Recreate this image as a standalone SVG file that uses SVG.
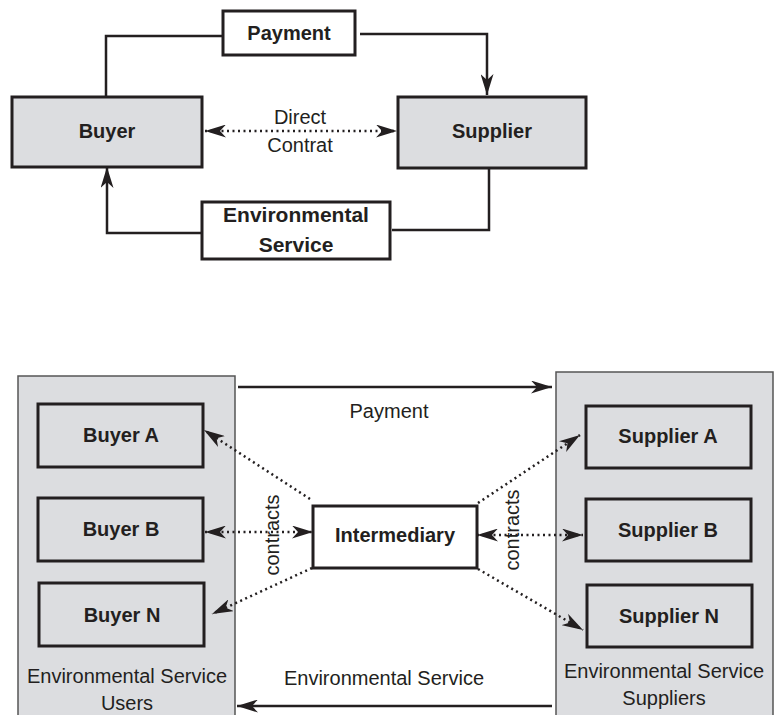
<svg xmlns="http://www.w3.org/2000/svg" width="776" height="715" viewBox="0 0 776 715">
<style>
.bg{fill:#ffffff}
.node{fill:#ffffff;stroke:#231f20;stroke-width:3}
.gnode{fill:#dcdde0;stroke:#231f20;stroke-width:3}
.cont{fill:#dcdde0;stroke:#555555;stroke-width:1.5}
.b{font-family:"Liberation Sans",Arial,sans-serif;font-weight:bold;font-size:20px;fill:#231f20;text-anchor:middle}
.t{font-family:"Liberation Sans",Arial,sans-serif;font-size:20px;fill:#231f20;text-anchor:middle}
.line{fill:none;stroke:#231f20;stroke-width:2.5}
.dot{fill:none;stroke:#231f20;stroke-width:2.5;stroke-dasharray:2 3.5}
</style>
<defs>
<marker id="ah" viewBox="0 0 21 13" refX="21" refY="6.5" markerWidth="21" markerHeight="13" markerUnits="userSpaceOnUse" orient="auto-start-reverse">
<path d="M0,0 L21,6.5 L0,13 L6,6.5 Z" fill="#231f20"/>
</marker>
</defs>
<rect class="bg" x="0" y="0" width="776" height="715"/>

<!-- Top diagram -->
<g id="buyer"><rect class="gnode" x="12" y="97" width="190" height="70"/><text class="b" x="107" y="138">Buyer</text></g>
<g id="supplier"><rect class="gnode" x="398" y="97" width="188" height="71"/><text class="b" x="492" y="138">Supplier</text></g>
<g id="payment"><rect class="node" x="223" y="11" width="132" height="44"/><text class="b" x="289" y="40">Payment</text></g>
<g id="envservice"><rect class="node" x="202" y="202" width="188" height="57"/><text class="b" x="296" y="222" style="font-size:21px">Environmental</text><text class="b" x="296" y="252" style="font-size:21px">Service</text></g>
<g id="direct-label"><text class="t" x="300" y="124">Direct</text><text class="t" x="300" y="152">Contrat</text></g>

<!-- Bottom diagram -->
<g id="users"><rect class="cont" x="18" y="376" width="217" height="345"/><text class="t" x="127" y="683">Environmental Service</text><text class="t" x="127" y="710">Users</text></g>
<g id="suppliers"><rect class="cont" x="556" y="372" width="217" height="349"/><text class="t" x="664" y="678">Environmental Service</text><text class="t" x="664" y="705">Suppliers</text></g>
<g id="buyerA"><rect class="gnode" x="38" y="404" width="165" height="63"/><text class="b" x="121" y="442">Buyer A</text></g>
<g id="buyerB"><rect class="gnode" x="38" y="498" width="165" height="63"/><text class="b" x="121" y="536">Buyer B</text></g>
<g id="buyerN"><rect class="gnode" x="39" y="583" width="165" height="63"/><text class="b" x="122" y="622">Buyer N</text></g>
<g id="supplierA"><rect class="gnode" x="586" y="406" width="165" height="62"/><text class="b" x="668" y="443">Supplier A</text></g>
<g id="supplierB"><rect class="gnode" x="586" y="499" width="165" height="62"/><text class="b" x="668" y="537">Supplier B</text></g>
<g id="supplierN"><rect class="gnode" x="587" y="585" width="165" height="62"/><text class="b" x="669" y="623">Supplier N</text></g>
<g id="intermediary"><rect class="node" x="313" y="506" width="164" height="62"/><text class="b" x="395" y="542">Intermediary</text></g>

<g id="connectors">
<path class="line" d="M106,97 V36 H223"/>
<path class="line" d="M360,34 H487 V95" marker-end="url(#ah)"/>
<path class="line" d="M489,168 V230 H392"/>
<path class="line" d="M202,233 H107 V167" marker-end="url(#ah)"/>
<line class="dot" x1="205" y1="131" x2="397" y2="131" marker-start="url(#ah)" marker-end="url(#ah)"/>

<line class="line" x1="238" y1="387" x2="552" y2="387" marker-end="url(#ah)"/>
<line class="line" x1="552" y1="706" x2="237" y2="706" marker-end="url(#ah)"/>

<line class="dot" x1="310" y1="499" x2="204" y2="430" marker-end="url(#ah)"/>
<line class="dot" x1="205" y1="532" x2="313" y2="532" marker-start="url(#ah)" marker-end="url(#ah)"/>
<line class="dot" x1="312" y1="568" x2="212" y2="614" marker-end="url(#ah)"/>
<line class="dot" x1="478" y1="503" x2="580" y2="435" marker-end="url(#ah)"/>
<line class="dot" x1="477" y1="535" x2="583" y2="535" marker-start="url(#ah)" marker-end="url(#ah)"/>
<line class="dot" x1="478" y1="569" x2="583" y2="630" marker-end="url(#ah)"/>
</g>

<g id="labels">
<text class="t" x="389" y="418">Payment</text>
<text class="t" x="384" y="685">Environmental Service</text>
<text class="t" transform="translate(279,535) rotate(-90)">contracts</text>
<text class="t" transform="translate(519,530) rotate(-90)">contracts</text>
</g>
</svg>
